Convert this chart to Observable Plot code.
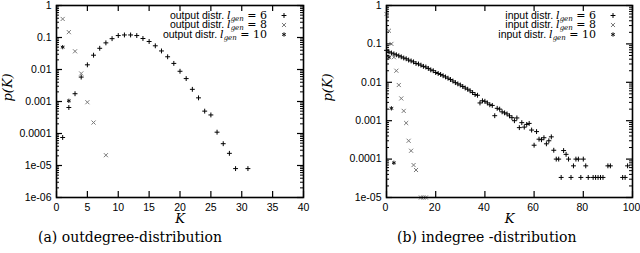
<!DOCTYPE html>
<html><head><meta charset="utf-8">
<script src="https://cdn.jsdelivr.net/npm/d3@7"></script>
<script src="https://cdn.jsdelivr.net/npm/@observablehq/plot@0.6"></script>
<style>
body{margin:0;background:#fff;}
#wrap{display:flex;width:640px;height:253px;overflow:hidden;}
.panel{position:relative;width:320px;height:253px;}
.panel svg{display:block;}
.cap{position:absolute;top:229px;font-family:"DejaVu Serif";font-size:14px;line-height:16px;white-space:nowrap;color:#000;}
</style></head><body><div id="wrap"></div>
<script>
// ---------- data: (a) outdegree distribution ----------
const outK6 = [1,2,3,4,5,6,7,8,9,10,11,12,13,14,15,16,17,18,19,20,21,22,23,24,25,26,27,28,29,31];
const outP6 = [7.5e-5,6.5e-4,1.75e-3,5.8e-3,0.014,0.028,0.046,0.068,0.092,0.115,0.12,0.12,0.115,0.093,0.075,0.055,0.038,0.025,0.0155,0.0088,0.0052,0.0024,0.0013,5.0e-4,3.8e-4,1.1e-4,4.8e-5,2.4e-5,8.0e-6,8.0e-6];
const outK8 = [1,2,3,4,5,6,8];
const outP8 = [0.38,0.147,0.037,0.0075,9.5e-4,2.2e-4,2.1e-5];
const outK10 = [1,2];
const outP10 = [0.05,0.00105];

// ---------- data: (b) indegree distribution ----------
const inK6 = [0,1,2,3,4,5,6,7,8,9,10,11,12,13,14,15,16,17,18,19,20,21,22,23,24,25,26,27,28,29,30,31,32,33,34,35,36,37,38,39,40,41,42,43,44,45,46,47,48,49,50,51,52,53,54,55,56,57,58,59,60,61,62,63,64,65,66,67,68,69,70,71,72,73,74,75,76,77,78,79,80,81,82,84,85,86,87,88,90,91,96,97,98];
const inP6 = [0.068,0.062,0.058,0.055,0.052,0.049,0.046,0.043,0.041,0.038,0.036,0.034,0.031,0.030,0.028,0.026,0.025,0.023,0.021,0.020,0.018,0.017,0.016,0.0148,0.0138,0.0128,0.0118,0.0108,0.0098,0.0091,0.0085,0.0078,0.0071,0.0066,0.0060,0.0054,0.0048,0.0046,0.0029,0.0033,0.0032,0.0029,0.0026,0.0025,0.00135,0.0021,0.0020,0.0017,0.0016,0.0015,0.00134,0.0012,0.0010,0.00118,0.00066,0.00089,0.00068,0.00080,0.00085,0.00057,0.00023,0.00052,0.00033,0.00032,0.00036,0.00025,0.00030,0.00038,0.00017,0.0001,0.0001,3.33e-5,1.67e-4,1.33e-4,0.0001,3.33e-5,6.67e-5,0.0001,0.0001,3.33e-5,0.0001,6.67e-5,3.33e-5,3.33e-5,3.33e-5,3.33e-5,3.33e-5,3.33e-5,6.67e-5,6.67e-5,3.33e-5,3.33e-5,6.67e-5];
const inK8 = [0,1,2,3,4,5,6,7,8,9,10,11,12,14,15,16];
const inP8 = [0.6,0.22,0.1,0.045,0.02,0.0085,0.0038,0.0018,8.7e-4,3.0e-4,1.65e-4,7.0e-5,5.2e-5,1e-5,1e-5,1e-5];
const inK10 = [1,2,3];
const inP10 = [0.045,0.0021,8e-5];

// ---------- ticks, labels ----------
const outXTicks = [0,5,10,15,20,25,30,35,40];
const inXTicks = [0,20,40,60,80,100];
const outYTicks = [1e-6,1e-5,1e-4,1e-3,1e-2,1e-1,1];
const outYLabels = ["1e-06","1e-05","0.0001","0.001","0.01","0.1","1"];
const inYTicks = [1e-5,1e-4,1e-3,1e-2,1e-1,1];
const inYLabels = ["1e-05","0.0001","0.001","0.01","0.1","1"];
const outLegend = ["output distr.","output distr.","output distr."];
const inLegend = ["input distr.","input distr.","input distr."];
const genValues = ["6","8","10"];
const xLabel = "K";
const yLabel = "p(K)";
const captions = ["(a) outdegree-distribution","(b) indegree -distribution"];

const symbols = ["plus","times","asterisk"];
const symR = [1.7,2,2];
const symStroke = ["#000","#7a7a7a","#111"];

function makePanel(opt) {
  const W = 320, H = 228, mt = 5, mb = 31;
  const ml = opt.ml, mr = opt.mr;
  const fw = W - ml - mr, fh = H - mt - mb;
  const minor = [];
  opt.yTicks.slice(0, -1).forEach(t => { for (let m = 2; m <= 9; m++) minor.push(t * m); });
  const series = opt.series.map((s, i) => Plot.dot(s.K.map((k, j) => ({K: k, p: s.P[j]})), {
    x: "K", y: "p", symbol: () => symbols[i], r: symR[i], stroke: symStroke[i], strokeWidth: 1
  }));
  const legendDots = symbols.map((sym, i) => Plot.dot([0], {
    frameAnchor: "top-right", dx: -19.5, dy: 10 + i * 9.5, symbol: () => sym, r: symR[i], stroke: symStroke[i], strokeWidth: 1
  }));
  const svg = Plot.plot({
    width: W, height: H,
    marginLeft: ml, marginRight: mr, marginTop: mt, marginBottom: mb,
    x: {domain: opt.xDomain},
    y: {type: "log", domain: opt.yDomain},
    symbol: {type: "identity"},
    style: {fontFamily: "'Liberation Sans', Arial, sans-serif", fontSize: "10.5px", color: "#000", background: "#fff"},
    marks: [
      Plot.tickY(opt.yTicks, {y: d => d, insetRight: fw - 6, stroke: "#000", strokeWidth: 1.2}),
      Plot.tickY(opt.yTicks, {y: d => d, insetLeft: fw - 6, stroke: "#000", strokeWidth: 1.2}),
      Plot.tickY(minor, {y: d => d, insetRight: fw - 3, stroke: "#000", strokeWidth: 1}),
      Plot.tickY(minor, {y: d => d, insetLeft: fw - 3, stroke: "#000", strokeWidth: 1}),
      Plot.tickX(opt.xTicks, {x: d => d, insetTop: fh - 6, stroke: "#000", strokeWidth: 1.2}),
      Plot.tickX(opt.xTicks, {x: d => d, insetBottom: fh - 6, stroke: "#000", strokeWidth: 1.2}),
      Plot.axisX({ticks: opt.xTicks, tickSize: 0, tickPadding: 6, label: null, dx: opt.xAxisDx}),
      Plot.axisY({ticks: opt.yTicks, tickSize: 0, tickPadding: 5, label: null,
        tickFormat: d => opt.yLabels[opt.yTicks.indexOf(d)]}),
      Plot.text([yLabel], {frameAnchor: "left", dx: opt.yLabelDx, rotate: -90, text: d => d,
        fontFamily: "'DejaVu Serif', serif", fontStyle: "italic", fontSize: 13}),
      Plot.text([xLabel], {frameAnchor: "bottom", dy: 25, text: d => d,
        fontFamily: "'DejaVu Serif', serif", fontStyle: "italic", fontSize: 13}),
      ...series,
      ...legendDots,
      Plot.frame({stroke: "#000", strokeWidth: 1.6})
    ]
  });
  // legend text with subscript
  const g = d3.select(svg).append("g");
  opt.legend.forEach((t, i) => {
    const tx = g.append("text")
      .attr("x", W - mr - 36).attr("y", mt + 10 + i * 9.5 + 3.5)
      .attr("text-anchor", "end").attr("fill", "#000")
      .style("font-family", "'Liberation Sans', Arial, sans-serif").style("font-size", "10.5px");
    tx.append("tspan").text(t + " ");
    tx.append("tspan").style("font-family", "'DejaVu Serif', serif").style("font-style", "italic").style("font-size", "11px").text("l");
    tx.append("tspan").attr("dy", 2).style("font-family", "'DejaVu Serif', serif").style("font-style", "italic").style("font-size", "7px").text("gen");
    tx.append("tspan").attr("dy", -2).style("font-family", "'DejaVu Serif', serif").style("font-size", "11px").text(" = " + genValues[i]);
  });
  return svg;
}

const wrap = document.getElementById("wrap");
const panels = [
  {xDomain: [0, 40], yDomain: [1e-6, 1], xTicks: outXTicks, yTicks: outYTicks, yLabels: outYLabels, ml: 56, mr: 17, yLabelDx: -49, xAxisDx: 0,
   legend: outLegend, series: [{K: outK6, P: outP6}, {K: outK8, P: outP8}, {K: outK10, P: outP10}], capLeft: 38},
  {xDomain: [0, 100], yDomain: [1e-5, 1], xTicks: inXTicks, yTicks: inYTicks, yLabels: inYLabels, ml: 66, mr: 8, yLabelDx: -59, xAxisDx: -1,
   legend: inLegend, series: [{K: inK6, P: inP6}, {K: inK8, P: inP8}, {K: inK10, P: inP10}], capLeft: 77}
];
panels.forEach((p, i) => {
  const div = document.createElement("div");
  div.className = "panel";
  div.appendChild(makePanel(p));
  const cap = document.createElement("div");
  cap.className = "cap";
  cap.style.left = p.capLeft + "px";
  cap.textContent = captions[i];
  div.appendChild(cap);
  wrap.appendChild(div);
});
</script>
</body></html>
